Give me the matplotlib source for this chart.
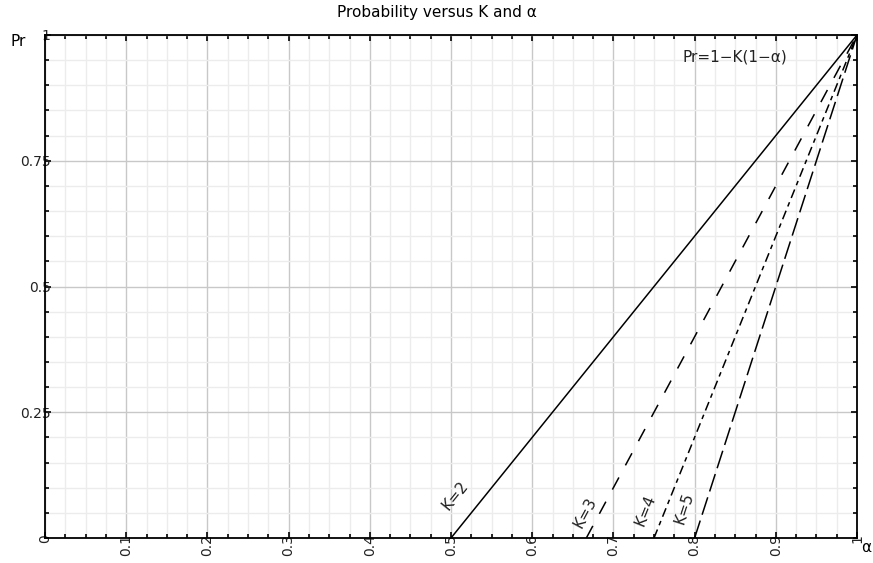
import numpy as np
import matplotlib.pyplot as plt
from matplotlib.ticker import MultipleLocator, FixedLocator

# Pr = 1 - K(1 - alpha), drawn from Pr=0 up to alpha=1
k_values = [2, 3, 4, 5]
dash_styles = ['-', (0, (9, 9)), (0, (6, 3, 3, 3)), (0, (12, 4))]
label_pos = [(0.505, 0.085), (0.665, 0.05), (0.74, 0.055), (0.787, 0.06)]

x_ticks = [0, 0.1, 0.2, 0.3, 0.4, 0.5, 0.6, 0.7, 0.8, 0.9, 1]
x_ticklabels = ['0', '0.1', '0.2', '0.3', '0.4', '0.5', '0.6', '0.7', '0.8', '0.9', '1']
y_ticks = [0.25, 0.5, 0.75, 1]
y_ticklabels = ['0.25', '0.5', '0.75', '1']

fig = plt.figure(figsize=(8.73, 5.63), dpi=100)
ax = fig.add_axes([45 / 873, 25 / 563, 812 / 873, 503 / 563])

for k, ls, (lx, ly) in zip(k_values, dash_styles, label_pos):
    a = np.array([1 - 1 / k, 1.0])
    pr = 1 - k * (1 - a)
    ax.plot(a, pr, color='black', linewidth=1.1, linestyle=ls)
    # угол подписи вдоль линии в пикселях
    ang = np.degrees(np.arctan2(k * 503, 812))
    ax.text(lx, ly, f'K={k}', rotation=ang, ha='center', va='center',
            fontsize=11, color='#222222', rotation_mode='anchor')

ax.set_xlim(0, 1)
ax.set_ylim(0, 1)

ax.xaxis.set_major_locator(FixedLocator(x_ticks))
ax.set_xticklabels(x_ticklabels, rotation=90, va='top', fontsize=10)
ax.xaxis.set_minor_locator(MultipleLocator(0.025))
ax.yaxis.set_major_locator(FixedLocator(y_ticks))
ax.set_yticklabels(y_ticklabels, fontsize=10)
ax.yaxis.set_minor_locator(MultipleLocator(0.05))

ax.tick_params(which='both', direction='in', top=True, right=True,
               width=1.2, color='black', labelcolor='#222222')
ax.tick_params(which='major', length=4)
ax.tick_params(which='minor', length=3)
ax.tick_params(axis='x', which='major', pad=-3)
ax.tick_params(axis='y', which='major', pad=-4)

ax.grid(True, which='major', color='#c8c8c8', linewidth=1.0)
ax.grid(True, which='minor', color='#ececec', linewidth=1.0)
ax.set_axisbelow(True)
for s in ax.spines.values():
    s.set_linewidth(1.3)

ax.text(0.85, 0.956, 'Pr=1\u2212K(1\u2212\u03b1)', ha='center', va='center',
        fontsize=11, color='#222222')

fig.text(18 / 873, 1 - 42 / 563, 'Pr', ha='center', va='center', fontsize=11)
fig.text(866 / 873, 1 - 548 / 563, '\u03b1', ha='center', va='center', fontsize=11)
fig.text(0.5, 1 - 12 / 563, 'Probability versus K and \u03b1', ha='center',
         va='center', fontsize=11)

fig.savefig('out.png', dpi=100)
